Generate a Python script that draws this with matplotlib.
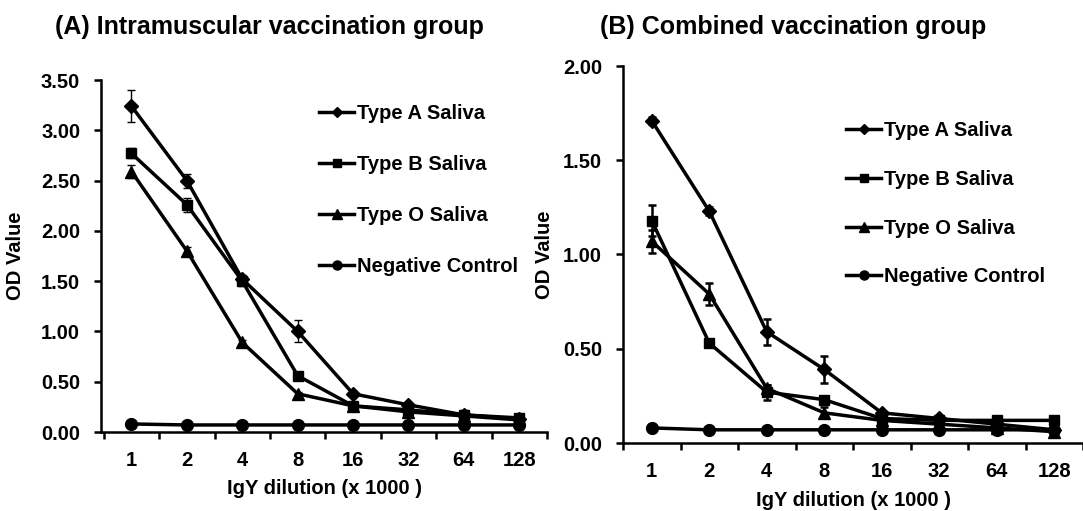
import numpy as np
import matplotlib
matplotlib.use('Agg')
import matplotlib.pyplot as plt
from matplotlib.lines import Line2D

plt.rcParams['font.family'] = ['Liberation Sans', 'DejaVu Sans']
plt.rcParams['font.weight'] = 'bold'

dilutions = ['1', '2', '4', '8', '16', '32', '64', '128']
labels = ['Type A Saliva', 'Type B Saliva', 'Type O Saliva', 'Negative Control']

# (A) intramuscular
im_a = [3.24, 2.50, 1.52, 1.00, 0.38, 0.27, 0.17, 0.13]
im_a_err = [0.16, 0.07, 0.04, 0.11, 0.02, 0.02, 0.05, 0.02]
im_b = [2.77, 2.26, 1.50, 0.56, 0.26, 0.22, 0.17, 0.14]
im_b_err = [0.05, 0.07, 0.05, 0.03, 0.02, 0.02, 0.02, 0.02]
im_o = [2.59, 1.80, 0.89, 0.38, 0.26, 0.20, 0.16, 0.12]
im_o_err = [0.06, 0.04, 0.02, 0.02, 0.02, 0.02, 0.02, 0.02]
im_neg = [0.08, 0.07, 0.07, 0.07, 0.07, 0.07, 0.07, 0.07]
im_neg_err = [0.01, 0.01, 0.01, 0.01, 0.01, 0.01, 0.01, 0.01]

# (B) combined
co_a = [1.71, 1.23, 0.59, 0.39, 0.16, 0.13, 0.10, 0.07]
co_a_err = [0.02, 0.02, 0.07, 0.07, 0.01, 0.01, 0.01, 0.01]
co_b = [1.18, 0.53, 0.27, 0.23, 0.13, 0.12, 0.12, 0.12]
co_b_err = [0.08, 0.02, 0.04, 0.02, 0.01, 0.01, 0.01, 0.01]
co_o = [1.07, 0.79, 0.29, 0.16, 0.12, 0.10, 0.08, 0.06]
co_o_err = [0.06, 0.06, 0.02, 0.03, 0.01, 0.01, 0.01, 0.01]
co_neg = [0.08, 0.07, 0.07, 0.07, 0.07, 0.07, 0.07, 0.07]
co_neg_err = [0.01, 0.01, 0.01, 0.01, 0.01, 0.01, 0.01, 0.01]

markers = ['D', 's', '^', 'o']
msizes = [7.5, 7.5, 8.5, 8.5]
leg_sizes = [5, 6, 6.5, 6.5]

fig = plt.figure(figsize=(10.83, 5.11), dpi=100)
ax1 = fig.add_axes([101/1083, 79/511, 446/1083, 352/511])
ax2 = fig.add_axes([623/1083, 68/511, 460/1083, 377/511])


def draw(ax, series, errs, ymax, xlim, elw, leg_anchor, spacing):
    x = np.arange(1, len(dilutions) + 1)
    for vals, err, m, ms in zip(series, errs, markers, msizes):
        ax.errorbar(x, vals, yerr=err, color='black', marker=m, markersize=ms,
                    linewidth=2.5, elinewidth=elw, capsize=3, capthick=elw,
                    clip_on=False)
    ax.set_xlim(*xlim)
    ax.set_ylim(0, ymax)
    ax.set_xticks(x)
    ax.set_xticklabels(dilutions)
    ax.set_xticks(np.arange(0.5, 9, 1), minor=True)
    ax.tick_params(axis='x', which='major', length=0, labelsize=14.5, pad=14)
    ax.tick_params(axis='x', which='minor', length=5, width=1.8, direction='out')
    ax.tick_params(axis='y', length=5, width=1.8, labelsize=14.5, pad=10)
    ax.set_yticks(np.arange(0, ymax + 0.01, 0.5))
    ax.yaxis.set_major_formatter(matplotlib.ticker.FormatStrFormatter('%.2f'))
    for s in ['top', 'right']:
        ax.spines[s].set_visible(False)
    for s in ['left', 'bottom']:
        ax.spines[s].set_linewidth(1.8)
    ax.set_ylabel('OD Value', fontsize=14.5, fontweight='bold')
    ax.set_xlabel('IgY dilution (x 1000 )', fontsize=14.5, fontweight='bold')
    handles = [Line2D([], [], color='black', linewidth=2.5, marker=m, markersize=s)
               for m, s in zip(markers, leg_sizes)]
    ax.legend(handles, labels, loc='upper left', bbox_to_anchor=leg_anchor,
              frameon=False, fontsize=14.5, handlelength=1.75, handletextpad=0.15,
              labelspacing=spacing, borderaxespad=0, borderpad=0)


draw(ax1, [im_a, im_b, im_o, im_neg], [im_a_err, im_b_err, im_o_err, im_neg_err],
     3.5, (0.45, 8.5), 1.0, (0.489, 0.9325), 1.6)
draw(ax2, [co_a, co_b, co_o, co_neg], [co_a_err, co_b_err, co_o_err, co_neg_err],
     2.0, (0.5, 8.43), 1.8, (0.485, 0.853), 1.47)

ax1.xaxis.set_label_coords(0.5, -0.134)
ax2.xaxis.set_label_coords(0.5, -0.127)
ax1.yaxis.set_label_coords(-0.17, 0.5)
ax2.yaxis.set_label_coords(-0.15, 0.5)

fig.text(269/1083, 1 - 27/511, '(A) Intramuscular vaccination group', ha='center',
         va='center', fontsize=18, fontweight='bold')
fig.text(793/1083, 1 - 27/511, '(B) Combined vaccination group', ha='center',
         va='center', fontsize=18, fontweight='bold')

fig.savefig('out.png', dpi=100)
